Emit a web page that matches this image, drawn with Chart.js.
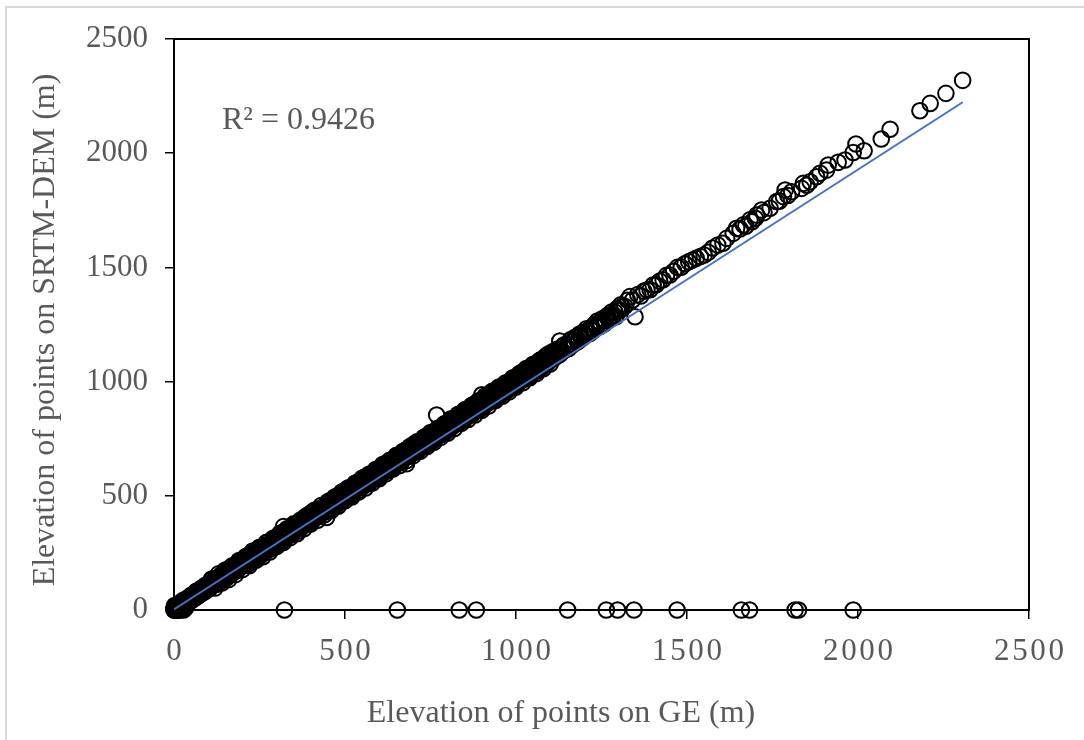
<!DOCTYPE html>
<html>
<head>
<meta charset="utf-8">
<script src="https://cdn.jsdelivr.net/npm/chart.js@4.4.1/dist/chart.umd.min.js"></script>
<style>
  html, body { margin: 0; padding: 0; background: #fff; }
  #wrap { width: 1084px; height: 740px; }
</style>
</head>
<body>
<div id="wrap"><canvas id="chart" width="1084" height="740"></canvas></div>
<script>
// Elevation pairs (m): GE on x, SRTM-DEM on y
const geElev = [
  0, 2, 4, 5, 7, 9, 10, 12, 14, 15, 17, 19, 21, 23, 25, 27, 30, 32, 35, 37,
  40, 43, 45, 48, 51, 54, 57, 60, 63, 66, 69, 72, 75, 78, 81, 84, 87, 90, 93, 96, 99,
  103, 108, 112, 117, 122, 127, 131, 136, 141, 146,
  151, 156, 160, 165, 170, 175, 179, 184, 189, 194,
  199, 204, 208, 213, 218, 223, 227, 232, 237, 242,
  247, 252, 256, 261, 266, 271, 275, 280, 285, 290,
  295, 300, 304, 309, 314, 319, 323, 328, 333, 338,
  343, 348, 352, 357, 362, 367, 371, 376, 381, 386,
  391, 396, 400, 405, 410, 415, 419, 424, 429, 434,
  439, 444, 448, 453, 458, 463, 467, 472, 477, 482,
  487, 492, 496, 501, 506, 511, 515, 520, 525, 530,
  535, 540, 544, 549, 554, 559, 563, 568, 573, 578,
  583, 588, 592, 597, 602, 607, 611, 616, 621, 626,
  631, 636, 640, 645, 650, 655, 659, 664, 669, 674,
  679, 684, 688, 693, 698, 703, 707, 712, 717, 722,
  727, 732, 736, 741, 746, 751, 755, 760, 765, 770,
  775, 780, 784, 789, 794, 799, 803, 808, 813, 818,
  823, 828, 832, 837, 842, 847, 851, 856, 861, 866,
  871, 876, 880, 885, 890, 895, 899, 904, 909, 914,
  919, 924, 928, 933, 938, 943, 947, 952, 957, 962,
  967, 972, 976, 981, 986, 991, 995, 1000, 1005, 1010,
  1015, 1020, 1024, 1029, 1034, 1039, 1043, 1048, 1053, 1058,
  1063, 1068, 1072, 1077, 1082, 1087, 1091, 1096, 1101, 1106,
  1112, 1118, 1125, 1131, 1138, 1144, 1151, 1157, 1164, 1170,
  1177, 1183, 1190, 1196, 1203, 1209, 1216, 1222, 1229, 1235,
  1242, 1248, 1255, 1262, 1268, 1275, 1282, 1289, 1296, 1303,
  1310, 1318, 1326, 1333, 1341, 1348, 1356, 1365, 1374, 1383,
  1392, 1401, 1410, 1420, 1430, 1440, 1450, 1461, 1472, 1483,
  1494, 1505, 1516, 1527, 1539, 1550, 1562, 1575, 1590, 1605, 1616,
  1635, 1645, 1655, 1665, 1672, 1684, 1690, 1700, 1704, 1718,
  1725, 1743, 1762, 1770, 1782, 1787, 1795, 1806, 1835, 1840,
  1850, 1860, 1879, 1889, 1908, 1913, 1942, 1962, 1986, 1994,
  2018, 2068, 2094, 2181, 2211, 2257, 2306,
  320, 446, 680, 768, 900, 1128
]
const srtmElev = [
  3, 2, 12, 3, 12, 21, 11, 19, 11, 25, 21, 33, 17, 32, 27, 43, 24, 38, 46, 36,
  53, 38, 53, 51, 66, 46, 62, 70, 61, 83, 69, 79, 68, 90, 85, 81, 101, 91, 102, 90, 105,
  114, 104, 119, 133, 113, 130, 144, 134, 149, 134,
  156, 174, 154, 175, 170, 189, 169, 190, 209, 191,
  208, 197, 223, 215, 205, 235, 231, 251, 232, 249,
  246, 265, 245, 269, 283, 272, 267, 291, 288, 305,
  289, 310, 325, 305, 320, 305, 332, 344, 333, 350,
  347, 339, 366, 364, 359, 386, 360, 386, 383, 403,
  386, 408, 406, 393, 425, 416, 439, 417, 438, 437,
  453, 436, 466, 458, 456, 474, 454, 480, 499, 482,
  494, 482, 509, 503, 522, 507, 525, 505, 531, 549,
  532, 549, 559, 541, 558, 577, 562, 580, 562, 585,
  603, 590, 586, 610, 588, 615, 627, 616, 631, 621,
  645, 627, 645, 666, 648, 666, 647, 670, 686, 677,
  672, 696, 689, 712, 694, 712, 692, 727, 721, 721,
  743, 722, 744, 763, 749, 745, 768, 757, 775, 788,
  773, 787, 772, 803, 799, 819, 795, 819, 813, 834,
  818, 837, 834, 823, 859, 853, 863, 853, 882, 870,
  884, 867, 888, 903, 889, 905, 888, 919, 912, 921,
  938, 918, 939, 934, 925, 957, 953, 950, 977, 971,
  963, 984, 993, 971, 991, 1006, 988, 1008, 1027, 1012,
  1026, 1012, 1040, 1033, 1022, 1052, 1043, 1066, 1048, 1067,
  1083, 1065, 1079, 1091, 1073, 1097, 1094, 1113, 1095, 1118,
  1116, 1133, 1118, 1140, 1156, 1142, 1162, 1157, 1178, 1176,
  1193, 1179, 1198, 1215, 1205, 1221, 1210, 1232, 1250, 1240,
  1255, 1249, 1273, 1269, 1290, 1285, 1279, 1304, 1320, 1311,
  1330, 1330, 1356, 1372, 1357, 1284, 1381, 1375, 1396, 1401,
  1402, 1423, 1424, 1440, 1446, 1465, 1467, 1483, 1500, 1501,
  1516, 1525, 1532, 1540, 1548, 1554, 1566, 1585, 1598, 1606, 1627,
  1649, 1671, 1668, 1686, 1680, 1708, 1700, 1715, 1729, 1751,
  1740, 1759, 1788, 1790, 1810, 1839, 1815, 1831, 1846, 1868,
  1860, 1875, 1897, 1912, 1926, 1948, 1960, 1970, 2003, 2040,
  2011, 2062, 2105, 2186, 2218, 2262, 2319,
  365, 405, 640, 854, 942, 1178
]
// second pass over the dense band (0 - 1310 m), where circles overlap into a solid stroke
const geElevDense = [
  0, 1, 0, 3, 2, 5, 8, 1, 3, 6, 8, 11, 13, 16, 18, 20, 22, 24, 26, 29, 31, 34, 36, 39,
  42, 44, 47, 50, 53, 56, 59, 62, 65, 68, 71, 74, 77, 80, 83, 86, 89, 92, 95, 98,
  105, 110, 114, 119, 124, 129, 133, 138, 143, 148,
  153, 158, 162, 167, 172, 177, 181, 186, 191, 196,
  201, 206, 210, 215, 220, 225, 229, 234, 239, 244,
  249, 254, 258, 263, 268, 273, 277, 282, 287, 292,
  297, 302, 306, 311, 316, 321, 325, 330, 335, 340,
  345, 350, 354, 359, 364, 369, 373, 378, 383, 388,
  393, 398, 402, 407, 412, 417, 421, 426, 431, 436,
  441, 446, 450, 455, 460, 465, 469, 474, 479, 484,
  489, 494, 498, 503, 508, 513, 517, 522, 527, 532,
  537, 542, 546, 551, 556, 561, 565, 570, 575, 580,
  585, 590, 594, 599, 604, 609, 613, 618, 623, 628,
  633, 638, 642, 647, 652, 657, 661, 666, 671, 676,
  681, 686, 690, 695, 700, 705, 709, 714, 719, 724,
  729, 734, 738, 743, 748, 753, 757, 762, 767, 772,
  777, 782, 786, 791, 796, 801, 805, 810, 815, 820,
  825, 830, 834, 839, 844, 849, 853, 858, 863, 868,
  873, 878, 882, 887, 892, 897, 901, 906, 911, 916,
  921, 926, 930, 935, 940, 945, 949, 954, 959, 964,
  969, 974, 978, 983, 988, 993, 997, 1002, 1007, 1012,
  1017, 1022, 1026, 1031, 1036, 1041, 1045, 1050, 1055, 1060,
  1065, 1070, 1074, 1079, 1084, 1089, 1093, 1098, 1103, 1108,
  1115, 1121, 1128, 1134, 1141, 1147, 1154, 1160, 1167, 1173,
  1180, 1186, 1193, 1199, 1206, 1212, 1219, 1225, 1232, 1238,
  1245, 1252, 1258, 1265, 1272, 1279, 1286, 1292, 1299, 1306
]
const srtmElevDense = [
  0, 8, 10, 15, 20, 0, 0, 0, 6, 1, 14, 4, 0, 18, 7, 2, 16, 10, 30, 20, 12, 28, 45, 30,
  50, 36, 58, 40, 63, 48, 52, 75, 56, 82, 62, 85, 70, 95, 74, 92, 80, 108, 86, 112,
  95, 116, 133, 113, 136, 114, 135, 155, 135, 158,
  139, 167, 160, 188, 163, 181, 197, 174, 192, 209,
  218, 195, 215, 199, 242, 221, 237, 221, 253, 243,
  269, 240, 261, 256, 278, 296, 265, 282, 270, 301,
  315, 289, 305, 325, 300, 343, 320, 333, 325, 360,
  330, 371, 351, 371, 346, 375, 391, 369, 407, 382,
  410, 382, 427, 407, 403, 439, 408, 444, 427, 447,
  429, 466, 444, 478, 445, 478, 473, 456, 494, 475,
  510, 480, 498, 527, 497, 527, 499, 541, 523, 542,
  521, 564, 549, 539, 581, 554, 579, 553, 595, 577,
  576, 614, 577, 604, 625, 597, 610, 641, 608, 641,
  619, 659, 624, 657, 676, 650, 677, 650, 673, 698,
  704, 672, 706, 684, 725, 696, 717, 697, 739, 714,
  725, 758, 723, 749, 735, 775, 741, 781, 757, 776,
  799, 767, 803, 783, 780, 804, 828, 799, 833, 810,
  845, 817, 858, 847, 834, 833, 878, 851, 851, 886,
  858, 902, 876, 874, 914, 881, 921, 899, 934, 904,
  911, 950, 914, 955, 947, 934, 972, 939, 953, 986,
  990, 960, 973, 1002, 973, 1017, 987, 986, 1014, 1000,
  1041, 1010, 1023, 1052, 1020, 1064, 1031, 1041, 1077, 1045,
  1055, 1092, 1060, 1074, 1107, 1076, 1081, 1123, 1095, 1132,
  1107, 1143, 1118, 1130, 1161, 1141, 1145, 1184, 1162, 1194,
  1174, 1208, 1190, 1197, 1231, 1212, 1237, 1221, 1243, 1265,
  1241, 1275, 1252, 1285, 1270, 1304, 1290, 1284, 1313, 1336
]
// outer edge of the band, points a little further off the 1:1 line
const geElevEdge = [
  2, 4, 6, 10, 12, 15, 18, 20, 25, 28, 30, 33,
  110, 120, 130, 140, 150, 160, 170, 180, 190, 200,
  210, 220, 230, 240, 250, 260, 270, 280, 290, 300,
  310, 320, 330, 340, 350, 360, 370, 380, 390, 400,
  410, 420, 430, 440, 450, 460, 470, 480, 490, 500,
  510, 520, 530, 540, 550, 560, 570, 580, 590, 600,
  610, 620, 630, 640, 650, 660, 670, 680, 690, 700,
  710, 720, 730, 740, 750, 760, 770, 780, 790, 800,
  810, 820, 830, 840, 850, 860, 870, 880, 890, 900,
  910, 920, 930, 940, 950, 960, 970, 980, 990, 1000,
  1010, 1020, 1030, 1040, 1050, 1060, 1070, 1080, 1090, 1100
]
const srtmElevEdge = [
  5, 0, 10, 0, 8, 3, 0, 10, 5, 0, 12, 8,
  136, 96, 158, 118, 175, 133, 193, 155, 217, 177,
  234, 194, 258, 218, 275, 233, 296, 254, 314, 278,
  336, 295, 355, 317, 377, 334, 394, 356, 415, 376,
  436, 393, 457, 417, 474, 435, 495, 454, 516, 478,
  535, 495, 556, 516, 577, 534, 594, 556, 615, 575,
  637, 596, 655, 617, 677, 632, 695, 654, 716, 676,
  736, 695, 755, 716, 777, 734, 794, 756, 815, 774,
  837, 795, 856, 817, 876, 834, 895, 854, 916, 874,
  938, 893, 957, 917, 976, 936, 995, 955, 1016, 976,
  1035, 995, 1057, 1017, 1076, 1035, 1094, 1056, 1116, 1077
]
// points where SRTM-DEM returned 0
const zeroGeElev = [323, 653, 834, 884, 1151, 1264, 1297, 1345, 1471, 1659, 1683, 1816, 1826, 1986]
const zeroSrtmElev = [0, 0, 0, 0, 0, 0, 0, 0, 0, 0, 0, 0, 0, 0]

// linear trendline ends
const trendX = [0, 2306]
const trendY = [3, 2223]

const tickValues = [0, 500, 1000, 1500, 2000, 2500]
const rSquaredLabel = "R² = 0.9426"
const xTitle = "Elevation of points on GE (m)"
const yTitle = "Elevation of points on SRTM-DEM (m)"

const serif = "'Liberation Serif', 'Times New Roman', serif"
const grey = "#595959"

function pairs(xs, ys) {
  return xs.map((x, i) => ({ x: x, y: ys[i] }))
}

const points = pairs(geElev, srtmElev)
  .concat(pairs(geElevDense, srtmElevDense))
  .concat(pairs(geElevEdge, srtmElevEdge))
  .concat(pairs(zeroGeElev, zeroSrtmElev))
const trend = pairs(trendX, trendY)

const framePlugin = {
  id: "frame",
  beforeDraw(chart) {
    const ctx = chart.ctx
    ctx.save()
    ctx.fillStyle = "#fff"
    ctx.fillRect(0, 0, chart.width, chart.height)
    ctx.strokeStyle = "#d9d9d9"
    ctx.lineWidth = 2
    ctx.beginPath()
    ctx.moveTo(6, chart.height + 5)
    ctx.lineTo(6, 7)
    ctx.lineTo(chart.width + 5, 7)
    ctx.stroke()
    ctx.restore()
  },
  beforeDatasetsDraw(chart) {
    const { ctx, chartArea: a } = chart
    ctx.save()
    ctx.strokeStyle = "#000"
    ctx.lineWidth = 2
    ctx.strokeRect(a.left, a.top, a.right - a.left, a.bottom - a.top)
    ctx.restore()
  },
  afterDatasetsDraw(chart) {
    const { ctx, chartArea: a } = chart
    ctx.save()
    ctx.fillStyle = grey
    ctx.font = "32px " + serif
    ctx.textBaseline = "alphabetic"

    // R² label
    ctx.textAlign = "left"
    ctx.fillText(rSquaredLabel, a.left + 48, a.top + 90)

    // axis titles
    ctx.textAlign = "center"
    ctx.fillText(xTitle, 561, 722)
    ctx.translate(54, 330)
    ctx.rotate(-Math.PI / 2)
    ctx.fillText(yTitle, 0, 0)
    ctx.restore()
  }
}

const ctx = document.getElementById("chart").getContext("2d")
new Chart(ctx, {
  type: "scatter",
  data: {
    datasets: [
      {
        label: "Linear",
        data: trend,
        showLine: true,
        borderColor: "#4472C4",
        borderWidth: 2,
        pointRadius: 0,
        order: 0
      },
      {
        label: "Points",
        data: points,
        pointStyle: "circle",
        pointRadius: 7.8,
        borderWidth: 2,
        borderColor: "#000",
        backgroundColor: "rgba(0,0,0,0)",
        clip: false,
        order: 1
      }
    ]
  },
  options: {
    responsive: false,
    animation: false,
    layout: { padding: { top: 39, right: 55, left: 0, bottom: 0 } },
    plugins: { legend: { display: false }, tooltip: { enabled: false } },
    scales: {
      x: {
        type: "linear",
        min: 0,
        max: 2500,
        afterBuildTicks: (scale) => { scale.ticks = tickValues.map(v => ({ value: v })) },
        afterFit: (scale) => { scale.height = 130 },
        ticks: {
          color: grey,
          font: { family: serif, size: 31 },
          padding: 14,
          maxRotation: 0,
          callback: (v) => String(v).split("").join("\u200A")
        },
        grid: { drawOnChartArea: false, tickLength: 9, color: "#000", lineWidth: 1.5 },
        border: { color: "#000", width: 2 }
      },
      y: {
        type: "linear",
        min: 0,
        max: 2500,
        afterBuildTicks: (scale) => { scale.ticks = tickValues.map(v => ({ value: v })) },
        afterFit: (scale) => { scale.width = 174 },
        ticks: {
          color: grey,
          font: { family: serif, size: 31 },
          padding: 17,
          callback: (v) => String(v)
        },
        grid: { drawOnChartArea: false, tickLength: 9, color: "#000", lineWidth: 1.5 },
        border: { color: "#000", width: 2 }
      }
    }
  },
  plugins: [framePlugin]
})
</script>
</body>
</html>
